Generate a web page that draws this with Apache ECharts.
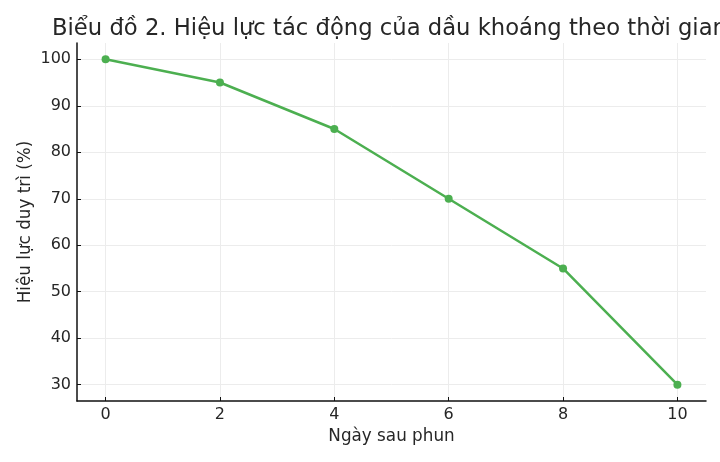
<!DOCTYPE html>
<html>
<head>
<meta charset="utf-8">
<script src="https://cdn.jsdelivr.net/npm/echarts@6/dist/echarts.min.js"></script>
<style>
  html, body { margin: 0; padding: 0; background: #ffffff; }
  #chart { width: 720px; height: 462px; }
</style>
</head>
<body>
<div id="chart"></div>
<script>
const days = [0, 2, 4, 6, 8, 10];
const efficacy = [100, 95, 85, 70, 55, 30];
const xTicks = [0, 2, 4, 6, 8, 10];
const yTicks = [30, 40, 50, 60, 70, 80, 90, 100];

const FONT = 'DejaVu Sans';
const chart = echarts.init(document.getElementById('chart'), null, { renderer: 'canvas' });

chart.setOption({
  backgroundColor: '#ffffff',
  animation: false,
  textStyle: { fontFamily: FONT },
  title: {
    text: 'Biểu đồ 2. Hiệu lực tác động của dầu khoáng theo thời gian',
    left: 52,
    top: 18,
    padding: 0,
    textStyle: { fontFamily: FONT, fontSize: 22.7, fontWeight: 'normal', color: '#262626' }
  },
  grid: { left: 77, right: 14, top: 43, bottom: 61, containLabel: false },
  xAxis: {
    type: 'value',
    min: -0.5,
    max: 10.5,
    name: 'Ngày sau phun',
    nameLocation: 'middle',
    nameGap: 27,
    nameMoveOverlap: false,
    nameTextStyle: { fontFamily: FONT, fontSize: 16.8, color: '#262626' },
    axisLine: { show: true, onZero: false, lineStyle: { color: '#111111', width: 1.5 } },
    axisTick: { show: true, inside: true, length: 4, customValues: xTicks, lineStyle: { color: '#111111', width: 1 } },
    axisLabel: { customValues: xTicks, margin: 6, fontFamily: FONT, fontSize: 16, color: '#262626' },
    splitLine: { show: true, lineStyle: { color: '#ececec', width: 1 } }
  },
  yAxis: {
    type: 'value',
    min: 26.5,
    max: 103.5,
    name: 'Hiệu lực duy trì (%)',
    nameLocation: 'middle',
    nameGap: 43,
    nameMoveOverlap: false,
    nameRotate: 90,
    nameTextStyle: { fontFamily: FONT, fontSize: 16.8, color: '#262626' },
    axisLine: { show: true, onZero: false, lineStyle: { color: '#111111', width: 1.5 } },
    axisTick: { show: true, inside: true, length: 4, customValues: yTicks, lineStyle: { color: '#111111', width: 1 } },
    axisLabel: { customValues: yTicks, margin: 6, fontFamily: FONT, fontSize: 16, color: '#262626' },
    splitLine: { show: true, lineStyle: { color: '#ececec', width: 1 } }
  },
  series: [{
    type: 'line',
    data: days.map((d, i) => [d, efficacy[i]]),
    symbol: 'circle',
    symbolSize: 8,
    lineStyle: { color: '#4caf50', width: 2.5 },
    itemStyle: { color: '#4caf50' },
    clip: false
  }]
});
</script>
</body>
</html>
